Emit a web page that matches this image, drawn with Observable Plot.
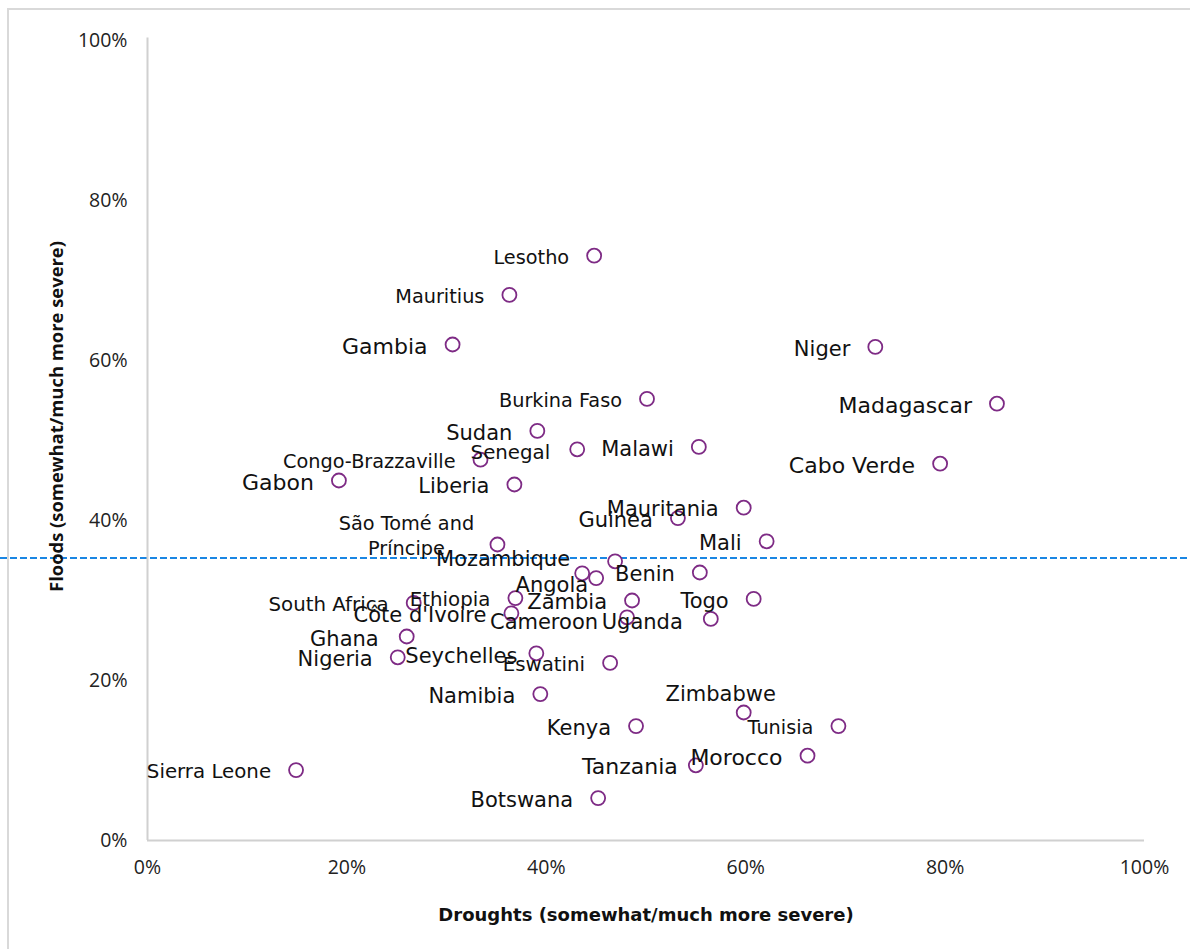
<!DOCTYPE html>
<html>
<head>
<meta charset="utf-8">
<script src="https://cdn.jsdelivr.net/npm/d3@7"></script>
<script src="https://cdn.jsdelivr.net/npm/@observablehq/plot@0.6"></script>
<style>
  body { margin: 0; background: #fff; }
  #wrap { position: relative; width: 1190px; height: 949px; overflow: hidden; background: #fff; }
  #frame { position: absolute; left: 7px; top: 8px; width: 1300px; height: 1100px;
           border-left: 2px solid #d9d9d9; border-top: 2px solid #d9d9d9; pointer-events: none; }
  #chart svg { display: block; }
</style>
</head>
<body>
<div id="wrap"><div id="chart"></div><div id="frame"></div></div>
<script>
// ---- Data (share of respondents saying somewhat/much more severe) ----
const countries = [
  "Lesotho", "Mauritius", "Gambia", "Niger", "Burkina Faso", "Madagascar", "Sudan", "Senegal",
  "Malawi", "Congo-Brazzaville", "Cabo Verde", "Gabon", "Liberia", "Mauritania", "Guinea", "Mali",
  "São Tomé and Príncipe", "Mozambique", "Angola", "(unlabelled)", "Benin", "Togo", "Zambia", "Ethiopia",
  "South Africa", "Côte d'Ivoire", "Cameroon", "Uganda", "Ghana", "Nigeria", "Seychelles", "Eswatini",
  "Namibia", "Zimbabwe", "Kenya", "Tunisia", "Morocco", "Tanzania", "Sierra Leone", "Botswana"
];
const droughts = [
  0.448, 0.363, 0.306, 0.730, 0.501, 0.852, 0.391, 0.431,
  0.553, 0.334, 0.795, 0.192, 0.368, 0.598, 0.532, 0.621,
  0.351, 0.469, 0.450, 0.436, 0.554, 0.608, 0.486, 0.369,
  0.267, 0.365, 0.481, 0.565, 0.260, 0.251, 0.390, 0.464,
  0.394, 0.598, 0.490, 0.693, 0.662, 0.550, 0.149, 0.452
];
const floods = [
  0.731, 0.682, 0.620, 0.617, 0.552, 0.546, 0.512, 0.489,
  0.492, 0.476, 0.471, 0.450, 0.445, 0.416, 0.403, 0.374,
  0.370, 0.349, 0.328, 0.334, 0.335, 0.302, 0.300, 0.303,
  0.297, 0.284, 0.279, 0.277, 0.255, 0.229, 0.234, 0.222,
  0.183, 0.160, 0.143, 0.143, 0.106, 0.094, 0.088, 0.053
];
const averageFloods = 0.353;
const xTicks = [0, 0.2, 0.4, 0.6, 0.8, 1];
const yTicks = [0, 0.2, 0.4, 0.6, 0.8, 1];
const xTitle = "Droughts (somewhat/much more severe)";
const yTitle = "Floods (somewhat/much more severe)";

// ---- Label layout (style/placement configuration) ----
const hiddenLabels = new Set(["(unlabelled)"]);
const labelLines = { "São Tomé and Príncipe": "São Tomé and\nPríncipe" };
const smallLabels = new Set(["Lesotho", "Mauritius", "Burkina Faso", "São Tomé and Príncipe", "Congo-Brazzaville", "Tunisia"]);
const midLabels = new Set(["Senegal", "Ethiopia", "South Africa", "Sierra Leone", "Eswatini"]);
const largeLabels = new Set(["Gambia", "Madagascar", "Cabo Verde", "Morocco", "Tanzania", "Gabon"]);
const labelPlacement = {
  "Mozambique": { anchor: "end", dx: -45, dy: -4 },
  "Angola": { anchor: "end", dx: -8, dy: 5 },
  "Zimbabwe": { anchor: "middle", dx: -23, dy: -20 },
  "São Tomé and Príncipe": { anchor: "middle", dx: -91, dy: -10 },
  "Cameroon": { anchor: "end", dx: -29, dy: 3 },
  "Uganda": { anchor: "end", dx: -28, dy: 1 },
  "Ghana": { anchor: "end", dx: -28, dy: 1 },
  "Senegal": { anchor: "end", dx: -27, dy: 1 },
  "Tanzania": { anchor: "end", dx: -18, dy: 0 },
  "Seychelles": { anchor: "end", dx: -19, dy: 1 }
};
const defaultPlacement = { anchor: "end", dx: -25, dy: 0 };

const rows = countries.map((c, i) => ({ country: c, drought: droughts[i], flood: floods[i] }));

const W = 1190, H = 949, ML = 147, MR = 46, MT = 40, MB = 109;
const px2x = p => (p - ML) / (W - ML - MR);

const labelMarks = rows.filter(r => !hiddenLabels.has(r.country)).map(r => {
  const p = labelPlacement[r.country] || defaultPlacement;
  const size = smallLabels.has(r.country) ? 19.3
             : midLabels.has(r.country) ? 19.8
             : largeLabels.has(r.country) ? 22 : 21;
  return Plot.text([r], {
    x: "drought", y: "flood",
    text: d => labelLines[d.country] || d.country,
    textAnchor: p.anchor, dx: p.dx, dy: p.dy,
    fontSize: size, fontFamily: "DejaVu Sans", fill: "#111",
    lineHeight: 1.3
  });
});

const chart = Plot.plot({
  width: W, height: H,
  marginLeft: ML, marginRight: MR, marginTop: MT, marginBottom: MB,
  x: { domain: [0, 1] },
  y: { domain: [0, 1] },
  style: { background: "transparent", overflow: "visible" },
  marks: [
    Plot.ruleY([averageFloods], { x1: px2x(0), x2: px2x(W), stroke: "#1a86e3", strokeWidth: 2, strokeDasharray: "7,3" }),
    Plot.ruleX([0], { y1: 0, y2: 1.003, stroke: "#d0d0d0", strokeWidth: 2 }),
    Plot.ruleY([0], { x1: 0, x2: 1, stroke: "#d0d0d0", strokeWidth: 2 }),
    Plot.axisX({ ticks: xTicks, tickFormat: d3.format(".0%"), tickSize: 0, tickPadding: 20,
                 fontSize: 19.5, fontFamily: "Open Sans", fill: "#222", label: null }),
    Plot.axisY({ ticks: yTicks, tickFormat: d3.format(".0%"), tickSize: 0, tickPadding: 20,
                 fontSize: 19.5, fontFamily: "Open Sans", fill: "#222", label: null }),
    Plot.dot(rows, { x: "drought", y: "flood", r: 7, stroke: "#7e2b85", strokeWidth: 1.8, fill: "white" }),
    ...labelMarks,
    Plot.text([xTitle], { text: d => d, frameAnchor: "bottom", dy: 80, textAnchor: "middle",
                          fontSize: 18, fontWeight: "bold", fontFamily: "DejaVu Sans", fill: "#111" }),
    Plot.text([yTitle], { text: d => d, frameAnchor: "left", textAnchor: "middle", rotate: -90, dx: -90, dy: -24,
                          fontSize: 18.4, fontWeight: "bold", fontFamily: "Open Sans", fill: "#111" })
  ]
});
document.getElementById("chart").appendChild(chart);
</script>
</body>
</html>
